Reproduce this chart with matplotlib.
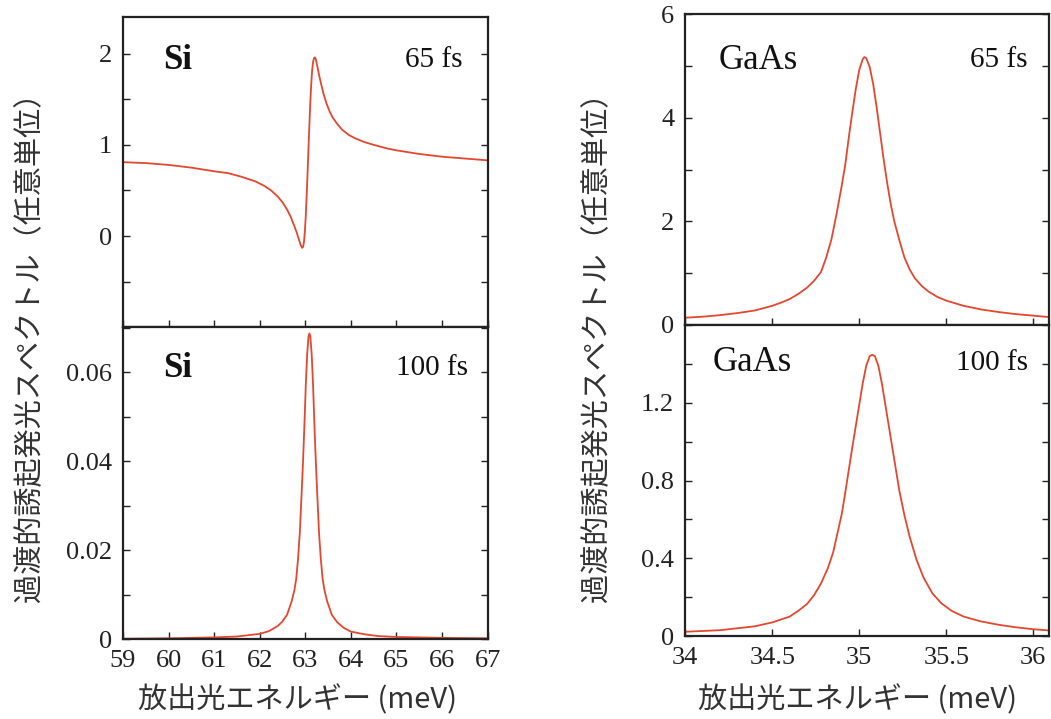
import numpy as np
import matplotlib
matplotlib.use('Agg')
import matplotlib.pyplot as plt
from matplotlib.ticker import MultipleLocator, FixedLocator, FuncFormatter

# Si, 65 fs (Fano-like shape)
si65_e = [59.0, 59.5, 60.0, 60.5, 61.0, 61.3, 61.6, 61.9, 62.1, 62.25, 62.4, 62.5, 62.6,
          62.68, 62.75, 62.81, 62.86, 62.9, 62.93, 62.95, 62.97, 62.99, 63.01, 63.03,
          63.05, 63.07, 63.09, 63.11, 63.13, 63.15, 63.17, 63.19, 63.21, 63.23, 63.26,
          63.3, 63.35, 63.4, 63.46, 63.53, 63.6, 63.7, 63.8, 63.95, 64.1, 64.3, 64.5,
          64.8, 65.0, 65.5, 66.0, 66.5, 67.0]
si65_v = [0.81, 0.80, 0.78, 0.75, 0.71, 0.69, 0.65, 0.60, 0.55, 0.50, 0.43, 0.37, 0.29,
          0.21, 0.12, 0.04, -0.04, -0.10, -0.13, -0.12, -0.07, 0.05, 0.22, 0.45,
          0.70, 0.97, 1.23, 1.47, 1.67, 1.82, 1.91, 1.95, 1.96, 1.94, 1.87,
          1.77, 1.66, 1.56, 1.46, 1.37, 1.30, 1.23, 1.17, 1.11, 1.07, 1.03, 1.00,
          0.96, 0.94, 0.90, 0.87, 0.85, 0.83]

# Si, 100 fs
si100_e = [59.0, 60.0, 61.0, 61.5, 62.0, 62.2, 62.4, 62.5, 62.6, 62.7, 62.76, 62.8, 62.84,
           62.88, 62.92, 62.95, 62.98, 63.01, 63.04, 63.07, 63.09, 63.11, 63.14, 63.17,
           63.2, 63.23, 63.26, 63.3, 63.34, 63.38, 63.42, 63.48, 63.58, 63.7, 63.85,
           64.0, 64.3, 64.6, 65.0, 66.0, 67.0]
si100_v = [0.0001, 0.0002, 0.0004, 0.0006, 0.0012, 0.0018, 0.0030, 0.0040, 0.0055, 0.0085,
           0.011, 0.0135, 0.018, 0.024, 0.033, 0.040, 0.048, 0.057, 0.064, 0.068, 0.0687,
           0.068, 0.064, 0.057, 0.048, 0.040, 0.033, 0.024, 0.018, 0.0135, 0.011, 0.0085,
           0.0055, 0.0038, 0.0025, 0.0017, 0.0011, 0.0007, 0.0005, 0.0003, 0.0002]

# GaAs, 65 fs
gaas65_e = [34.0, 34.1, 34.2, 34.3, 34.4, 34.5, 34.55, 34.6, 34.65, 34.7, 34.74, 34.78,
            34.81, 34.84, 34.87, 34.9, 34.92, 34.94, 34.96, 34.98, 35.0, 35.02, 35.03,
            35.04, 35.06, 35.08, 35.1, 35.12, 35.14, 35.16, 35.18, 35.2, 35.23, 35.26,
            35.29, 35.32, 35.36, 35.4, 35.45, 35.5, 35.6, 35.7, 35.8, 35.9, 36.0, 36.1]
gaas65_v = [0.14, 0.16, 0.19, 0.23, 0.28, 0.37, 0.43, 0.50, 0.60, 0.72, 0.85, 1.02,
            1.30, 1.65, 2.15, 2.70, 3.10, 3.62, 4.10, 4.55, 4.92, 5.13, 5.17,
            5.15, 4.98, 4.65, 4.20, 3.70, 3.20, 2.75, 2.35, 2.02, 1.64, 1.30,
            1.07, 0.90, 0.75, 0.64, 0.54, 0.47, 0.37, 0.30, 0.25, 0.21, 0.18, 0.15]

# GaAs, 100 fs
gaas100_e = [34.0, 34.1, 34.2, 34.3, 34.4, 34.5, 34.55, 34.6, 34.65, 34.7, 34.74, 34.78,
             34.82, 34.85, 34.87, 34.9, 34.92, 34.94, 34.96, 34.98, 35.0, 35.02, 35.04,
             35.06, 35.075, 35.09, 35.11, 35.13, 35.15, 35.17, 35.19, 35.21, 35.23, 35.26,
             35.29, 35.33, 35.37, 35.42, 35.47, 35.53, 35.6, 35.7, 35.8, 35.9, 36.0, 36.1]
gaas100_v = [0.022, 0.026, 0.03, 0.04, 0.05, 0.07, 0.085, 0.10, 0.13, 0.165, 0.21, 0.27,
             0.35, 0.43, 0.51, 0.63, 0.74, 0.855, 0.97, 1.08, 1.19, 1.30, 1.39,
             1.44, 1.447, 1.44, 1.39, 1.30, 1.19, 1.08, 0.97, 0.86, 0.75, 0.62,
             0.51, 0.39, 0.30, 0.22, 0.17, 0.13, 0.10, 0.075, 0.058, 0.045, 0.035, 0.028]

si_xticks = [59, 60, 61, 62, 63, 64, 65, 66, 67]
gaas_xticks = [34, 34.5, 35, 35.5, 36]

serif = 'Liberation Serif'
cjk = ['Noto Sans CJK JP', 'DejaVu Sans']
line_col = '#e4472f'
spine_col = '#222222'

fig = plt.figure(figsize=(10.51, 7.19), dpi=100)


def setup(ax, xlim, ylim, xticks, yticks, yminor, show_x):
    ax.set_xlim(xlim)
    ax.set_ylim(ylim)
    ax.xaxis.set_major_locator(FixedLocator(xticks))
    ax.yaxis.set_major_locator(FixedLocator(yticks))
    ax.yaxis.set_minor_locator(MultipleLocator(yminor))
    fmt = FuncFormatter(lambda v, p: '%g' % v)
    ax.xaxis.set_major_formatter(fmt)
    ax.yaxis.set_major_formatter(fmt)
    ax.tick_params(which='both', direction='in', left=True, right=True,
                   top=False, bottom=True, color=spine_col, width=1.0, length=5)
    ax.tick_params(axis='x', labelbottom=show_x, pad=8)
    ax.tick_params(axis='y', pad=8)
    for lab in ax.get_xticklabels() + ax.get_yticklabels():
        lab.set_fontfamily(serif)
        lab.set_fontsize(19)
        lab.set_color('#222222')
    for s in ax.spines.values():
        s.set_linewidth(1.6)
        s.set_color(spine_col)


def tag(ax, left_txt, right_txt, x0, x1, y, bold):
    ax.text(x0, y, left_txt, transform=ax.transAxes, fontfamily=serif, fontsize=25,
            fontweight='bold' if bold else 'normal', va='center', ha='left', color='#111111')
    ax.text(x1, y, right_txt, transform=ax.transAxes, fontfamily=serif, fontsize=21,
            va='center', ha='right', color='#111111')


# Si panels
ax1 = fig.add_axes([0.117, 0.545, 0.347, 0.431])
ax1.plot(si65_e, si65_v, color=line_col, lw=1.3)
setup(ax1, (59, 67), (-1.0, 2.4), si_xticks, [0, 1, 2], 0.5, False)
tag(ax1, 'Si', '65 fs', 0.11, 0.93, 0.862, True)

ax2 = fig.add_axes([0.117, 0.111, 0.347, 0.434])
ax2.plot(si100_e, si100_v, color=line_col, lw=1.3)
setup(ax2, (59, 67), (0, 0.0701), si_xticks, [0, 0.02, 0.04, 0.06], 0.01, True)
tag(ax2, 'Si', '100 fs', 0.11, 0.945, 0.869, True)

# GaAs panels
ax3 = fig.add_axes([0.652, 0.548, 0.346, 0.4325])
ax3.plot(gaas65_e, gaas65_v, color=line_col, lw=1.3)
setup(ax3, (34, 36.09), (0, 6), gaas_xticks, [0, 2, 4, 6], 1, False)
tag(ax3, 'GaAs', '65 fs', 0.091, 0.94, 0.852, False)

ax4 = fig.add_axes([0.652, 0.1154, 0.346, 0.4325])
ax4.plot(gaas100_e, gaas100_v, color=line_col, lw=1.3)
setup(ax4, (34, 36.09), (0, 1.6), gaas_xticks, [0, 0.4, 0.8, 1.2], 0.2, True)
tag(ax4, 'GaAs', '100 fs', 0.074, 0.942, 0.878, False)

ylab = '過渡的誘起発光スペクトル（任意単位）'
xlab = '放出光エネルギー (meV)'
fig.text(30 / 1051, 1 - 340 / 719, ylab, rotation=90, family=cjk, fontsize=21,
         ha='center', va='center', color='#333333')
fig.text(597 / 1051, 1 - 340 / 719, ylab, rotation=90, family=cjk, fontsize=21,
         ha='center', va='center', color='#333333')
fig.text(297 / 1051, 1 - 700 / 719, xlab, family=cjk, fontsize=21,
         ha='center', va='center', color='#333333')
fig.text(857 / 1051, 1 - 700 / 719, xlab, family=cjk, fontsize=21,
         ha='center', va='center', color='#333333')

fig.savefig('out.png', dpi=100)
